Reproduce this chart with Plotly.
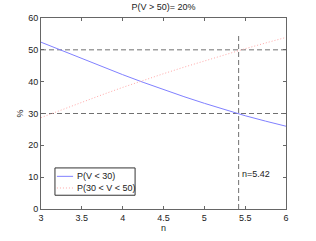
import plotly.graph_objects as go

n_vals = [3.0, 3.25, 3.5, 3.75, 4.0, 4.25, 4.5, 4.75, 5.0, 5.25, 5.5, 5.75, 6.0]
p_low = [52.4, 49.8, 47.2, 44.7, 42.2, 39.8, 37.5, 35.3, 33.2, 31.2, 29.3, 27.6, 26.0]
p_mid = [28.7, 31.15, 33.55, 35.9, 38.2, 40.4, 42.5, 44.55, 46.55, 48.5, 50.35, 52.15, 53.9]
ref_levels = [50, 30]
n_star = 5.42
n_star_top = 55
x_ticks = [3, 3.5, 4, 4.5, 5, 5.5, 6]
y_ticks = [0, 10, 20, 30, 40, 50, 60]
series_names = ["P(V < 30)", "P(30 < V < 50)"]
series_colors = ["#8080ff", "#ffa8a8"]
series_dash = ["solid", "1px,2px"]

font = "Liberation Sans, Arial, sans-serif"
fig = go.Figure()
for yv, nm, col, dsh in zip([p_low, p_mid], series_names, series_colors, series_dash):
    fig.add_trace(go.Scatter(x=n_vals, y=yv, mode="lines", name=nm, showlegend=False,
                             line=dict(color=col, width=1, dash=dsh)))

gray_dash = dict(color="#707070", width=1, dash="5px,3px")
for lv in ref_levels:
    fig.add_shape(type="line", xref="x", yref="y", x0=3, x1=6, y0=lv, y1=lv,
                  line=gray_dash, layer="below")
fig.add_shape(type="line", xref="x", yref="y", x0=n_star, x1=n_star, y0=0, y1=n_star_top,
              line=gray_dash, layer="below")
fig.add_annotation(x=n_star, y=11, xref="x", yref="y", text="n=5.42", showarrow=False,
                   xanchor="left", xshift=1, font=dict(family=font, size=9, color="#222"))

# legend box (MATLAB style)
fig.add_shape(type="rect", xref="paper", yref="paper", x0=0.057, x1=0.384, y0=0.072, y1=0.215,
              line=dict(color="#333", width=1), fillcolor="white", layer="above")
row_y = [0.171, 0.110]
for ry, nm, col, dsh in zip(row_y, series_names, series_colors, series_dash):
    fig.add_shape(type="line", xref="paper", yref="paper", x0=0.065, x1=0.131, y0=ry, y1=ry,
                  line=dict(color=col, width=1, dash=dsh), layer="above")
    fig.add_annotation(x=0.137, y=ry, xref="paper", yref="paper", text=nm, showarrow=False,
                       xanchor="left", yanchor="middle",
                       font=dict(family=font, size=9, color="#222"))

axis_common = dict(showgrid=False, zeroline=False, showline=True, linecolor="#666",
                   linewidth=1, mirror="ticks", ticks="inside", ticklen=3,
                   tickcolor="#666", tickfont=dict(family=font, size=9, color="#222"))
fig.update_xaxes(range=[3, 6], tickvals=x_ticks, ticktext=[str(v) for v in x_ticks],
                 title=dict(text="n", font=dict(family=font, size=9, color="#222"), standoff=0),
                 **axis_common)
fig.update_yaxes(range=[0, 60], tickvals=y_ticks,
                 title=dict(text="%", font=dict(family=font, size=9, color="#222"), standoff=3),
                 **axis_common)

fig.update_layout(
    width=316, height=241,
    margin=dict(l=41, r=30, t=18, b=28),
    paper_bgcolor="white", plot_bgcolor="white",
    title=dict(text="P(V > 50)= 20%", x=0.5, xref="paper", y=1, yref="container",
               yanchor="top", pad=dict(t=4),
               font=dict(family=font, size=9, color="#222")),
    showlegend=False,
    font=dict(family=font),
)
fig.write_html("out.html", config={"displayModeBar": False},
               post_script="document.body.style.margin='0';document.body.style.padding='0';")
